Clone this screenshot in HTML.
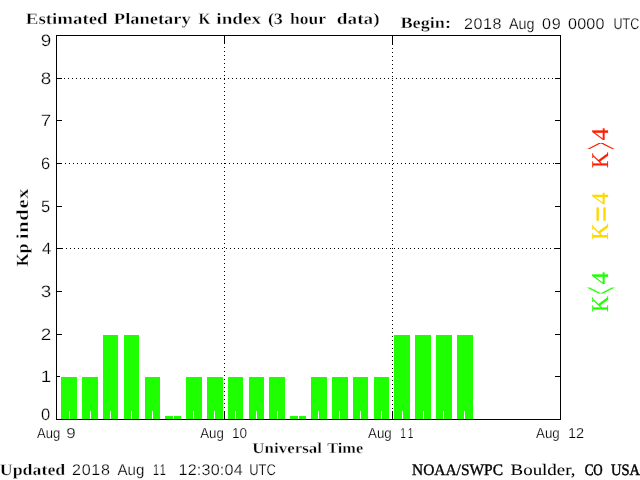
<!DOCTYPE html>
<html lang="en"><head><meta charset="utf-8"><title>Estimated Planetary K index</title>
<style>html,body{margin:0;padding:0;background:#fff;overflow:hidden}svg{display:block}text{white-space:pre;text-rendering:geometricPrecision;stroke:#fff;stroke-width:.22px;stroke-linejoin:round}text.b{stroke-width:.3px}text.m{stroke:#000;stroke-width:.25px}text.s{stroke-width:.4px;vector-effect:non-scaling-stroke}</style></head>
<body>
<svg width="640" height="480" viewBox="0 0 640 480">
<rect width="640" height="480" fill="#fff"/>
<g shape-rendering="crispEdges">
<rect x="61" y="377" width="16" height="42" fill="#1eff00"/>
<rect x="82" y="377" width="16" height="42" fill="#1eff00"/>
<rect x="103" y="335" width="15" height="84" fill="#1eff00"/>
<rect x="124" y="335" width="15" height="84" fill="#1eff00"/>
<rect x="145" y="377" width="15" height="42" fill="#1eff00"/>
<rect x="165" y="416" width="16" height="3" fill="#1eff00"/>
<rect x="186" y="377" width="16" height="42" fill="#1eff00"/>
<rect x="207" y="377" width="16" height="42" fill="#1eff00"/>
<rect x="228" y="377" width="15" height="42" fill="#1eff00"/>
<rect x="249" y="377" width="15" height="42" fill="#1eff00"/>
<rect x="269" y="377" width="16" height="42" fill="#1eff00"/>
<rect x="290" y="416" width="16" height="3" fill="#1eff00"/>
<rect x="311" y="377" width="16" height="42" fill="#1eff00"/>
<rect x="332" y="377" width="16" height="42" fill="#1eff00"/>
<rect x="353" y="377" width="15" height="42" fill="#1eff00"/>
<rect x="374" y="377" width="15" height="42" fill="#1eff00"/>
<rect x="394" y="335" width="16" height="84" fill="#1eff00"/>
<rect x="415" y="335" width="16" height="84" fill="#1eff00"/>
<rect x="436" y="335" width="16" height="84" fill="#1eff00"/>
<rect x="457" y="335" width="16" height="84" fill="#1eff00"/>
<rect x="69" y="411" width="1" height="8" fill="#fff"/>
<rect x="90" y="411" width="1" height="8" fill="#fff"/>
<rect x="110" y="411" width="1" height="8" fill="#fff"/>
<rect x="131" y="411" width="1" height="8" fill="#fff"/>
<rect x="152" y="411" width="1" height="8" fill="#fff"/>
<rect x="173" y="416" width="1" height="3" fill="#fff"/>
<rect x="193" y="411" width="1" height="8" fill="#fff"/>
<rect x="214" y="411" width="1" height="8" fill="#fff"/>
<rect x="235" y="411" width="1" height="8" fill="#fff"/>
<rect x="256" y="411" width="1" height="8" fill="#fff"/>
<rect x="277" y="411" width="1" height="8" fill="#fff"/>
<rect x="298" y="416" width="1" height="3" fill="#fff"/>
<rect x="318" y="411" width="1" height="8" fill="#fff"/>
<rect x="339" y="411" width="1" height="8" fill="#fff"/>
<rect x="360" y="411" width="1" height="8" fill="#fff"/>
<rect x="381" y="411" width="1" height="8" fill="#fff"/>
<rect x="402" y="411" width="1" height="8" fill="#fff"/>
<rect x="423" y="411" width="1" height="8" fill="#fff"/>
<rect x="443" y="411" width="1" height="8" fill="#fff"/>
<rect x="464" y="411" width="1" height="8" fill="#fff"/>
<rect x="56" y="35" width="505" height="1" fill="#000"/>
<rect x="56" y="419" width="505" height="1" fill="#000"/>
<rect x="56" y="35" width="1" height="385" fill="#000"/>
<rect x="560" y="35" width="1" height="385" fill="#000"/>
<rect x="56" y="376" width="4" height="1" fill="#000"/>
<rect x="555" y="376" width="6" height="1" fill="#000"/>
<rect x="56" y="334" width="6" height="1" fill="#000"/>
<rect x="555" y="334" width="6" height="1" fill="#000"/>
<rect x="56" y="291" width="6" height="1" fill="#000"/>
<rect x="555" y="291" width="6" height="1" fill="#000"/>
<rect x="56" y="248" width="7" height="1" fill="#000"/>
<rect x="554" y="248" width="7" height="1" fill="#000"/>
<rect x="56" y="206" width="6" height="1" fill="#000"/>
<rect x="555" y="206" width="6" height="1" fill="#000"/>
<rect x="56" y="163" width="6" height="1" fill="#000"/>
<rect x="555" y="163" width="6" height="1" fill="#000"/>
<rect x="56" y="120" width="6" height="1" fill="#000"/>
<rect x="555" y="120" width="6" height="1" fill="#000"/>
<rect x="56" y="78" width="6" height="1" fill="#000"/>
<rect x="555" y="78" width="6" height="1" fill="#000"/>
<path d="M64 78h1v1h-1zM68 78h1v1h-1zM72 78h1v1h-1zM76 78h1v1h-1zM80 78h1v1h-1zM84 78h1v1h-1zM88 78h1v1h-1zM92 78h1v1h-1zM96 78h1v1h-1zM100 78h1v1h-1zM104 78h1v1h-1zM108 78h1v1h-1zM112 78h1v1h-1zM116 78h1v1h-1zM120 78h1v1h-1zM124 78h1v1h-1zM128 78h1v1h-1zM132 78h1v1h-1zM136 78h1v1h-1zM140 78h1v1h-1zM144 78h1v1h-1zM148 78h1v1h-1zM152 78h1v1h-1zM156 78h1v1h-1zM160 78h1v1h-1zM164 78h1v1h-1zM168 78h1v1h-1zM172 78h1v1h-1zM176 78h1v1h-1zM180 78h1v1h-1zM184 78h1v1h-1zM188 78h1v1h-1zM192 78h1v1h-1zM196 78h1v1h-1zM200 78h1v1h-1zM204 78h1v1h-1zM208 78h1v1h-1zM212 78h1v1h-1zM216 78h1v1h-1zM220 78h1v1h-1zM224 78h1v1h-1zM228 78h1v1h-1zM232 78h1v1h-1zM236 78h1v1h-1zM240 78h1v1h-1zM244 78h1v1h-1zM248 78h1v1h-1zM252 78h1v1h-1zM256 78h1v1h-1zM260 78h1v1h-1zM264 78h1v1h-1zM268 78h1v1h-1zM272 78h1v1h-1zM276 78h1v1h-1zM280 78h1v1h-1zM284 78h1v1h-1zM288 78h1v1h-1zM292 78h1v1h-1zM296 78h1v1h-1zM300 78h1v1h-1zM304 78h1v1h-1zM308 78h1v1h-1zM312 78h1v1h-1zM316 78h1v1h-1zM320 78h1v1h-1zM324 78h1v1h-1zM328 78h1v1h-1zM332 78h1v1h-1zM336 78h1v1h-1zM340 78h1v1h-1zM344 78h1v1h-1zM348 78h1v1h-1zM352 78h1v1h-1zM356 78h1v1h-1zM360 78h1v1h-1zM364 78h1v1h-1zM368 78h1v1h-1zM372 78h1v1h-1zM376 78h1v1h-1zM380 78h1v1h-1zM384 78h1v1h-1zM388 78h1v1h-1zM392 78h1v1h-1zM396 78h1v1h-1zM400 78h1v1h-1zM404 78h1v1h-1zM408 78h1v1h-1zM412 78h1v1h-1zM416 78h1v1h-1zM420 78h1v1h-1zM424 78h1v1h-1zM428 78h1v1h-1zM432 78h1v1h-1zM436 78h1v1h-1zM440 78h1v1h-1zM444 78h1v1h-1zM448 78h1v1h-1zM452 78h1v1h-1zM456 78h1v1h-1zM460 78h1v1h-1zM464 78h1v1h-1zM468 78h1v1h-1zM472 78h1v1h-1zM476 78h1v1h-1zM480 78h1v1h-1zM484 78h1v1h-1zM488 78h1v1h-1zM492 78h1v1h-1zM496 78h1v1h-1zM500 78h1v1h-1zM504 78h1v1h-1zM508 78h1v1h-1zM512 78h1v1h-1zM516 78h1v1h-1zM520 78h1v1h-1zM524 78h1v1h-1zM528 78h1v1h-1zM532 78h1v1h-1zM536 78h1v1h-1zM540 78h1v1h-1zM544 78h1v1h-1zM548 78h1v1h-1zM552 78h1v1h-1z" fill="#000"/>
<path d="M65 163h1v1h-1zM69 163h1v1h-1zM73 163h1v1h-1zM77 163h1v1h-1zM81 163h1v1h-1zM85 163h1v1h-1zM89 163h1v1h-1zM93 163h1v1h-1zM97 163h1v1h-1zM101 163h1v1h-1zM105 163h1v1h-1zM109 163h1v1h-1zM113 163h1v1h-1zM117 163h1v1h-1zM121 163h1v1h-1zM125 163h1v1h-1zM129 163h1v1h-1zM133 163h1v1h-1zM137 163h1v1h-1zM141 163h1v1h-1zM145 163h1v1h-1zM149 163h1v1h-1zM153 163h1v1h-1zM157 163h1v1h-1zM161 163h1v1h-1zM165 163h1v1h-1zM169 163h1v1h-1zM173 163h1v1h-1zM177 163h1v1h-1zM181 163h1v1h-1zM185 163h1v1h-1zM189 163h1v1h-1zM193 163h1v1h-1zM197 163h1v1h-1zM201 163h1v1h-1zM205 163h1v1h-1zM209 163h1v1h-1zM213 163h1v1h-1zM217 163h1v1h-1zM221 163h1v1h-1zM225 163h1v1h-1zM229 163h1v1h-1zM233 163h1v1h-1zM237 163h1v1h-1zM241 163h1v1h-1zM245 163h1v1h-1zM249 163h1v1h-1zM253 163h1v1h-1zM257 163h1v1h-1zM261 163h1v1h-1zM265 163h1v1h-1zM269 163h1v1h-1zM273 163h1v1h-1zM277 163h1v1h-1zM281 163h1v1h-1zM285 163h1v1h-1zM289 163h1v1h-1zM293 163h1v1h-1zM297 163h1v1h-1zM301 163h1v1h-1zM305 163h1v1h-1zM309 163h1v1h-1zM313 163h1v1h-1zM317 163h1v1h-1zM321 163h1v1h-1zM325 163h1v1h-1zM329 163h1v1h-1zM333 163h1v1h-1zM337 163h1v1h-1zM341 163h1v1h-1zM345 163h1v1h-1zM349 163h1v1h-1zM353 163h1v1h-1zM357 163h1v1h-1zM361 163h1v1h-1zM365 163h1v1h-1zM369 163h1v1h-1zM373 163h1v1h-1zM377 163h1v1h-1zM381 163h1v1h-1zM385 163h1v1h-1zM389 163h1v1h-1zM393 163h1v1h-1zM397 163h1v1h-1zM401 163h1v1h-1zM405 163h1v1h-1zM409 163h1v1h-1zM413 163h1v1h-1zM417 163h1v1h-1zM421 163h1v1h-1zM425 163h1v1h-1zM429 163h1v1h-1zM433 163h1v1h-1zM437 163h1v1h-1zM441 163h1v1h-1zM445 163h1v1h-1zM449 163h1v1h-1zM453 163h1v1h-1zM457 163h1v1h-1zM461 163h1v1h-1zM465 163h1v1h-1zM469 163h1v1h-1zM473 163h1v1h-1zM477 163h1v1h-1zM481 163h1v1h-1zM485 163h1v1h-1zM489 163h1v1h-1zM493 163h1v1h-1zM497 163h1v1h-1zM501 163h1v1h-1zM505 163h1v1h-1zM509 163h1v1h-1zM513 163h1v1h-1zM517 163h1v1h-1zM521 163h1v1h-1zM525 163h1v1h-1zM529 163h1v1h-1zM533 163h1v1h-1zM537 163h1v1h-1zM541 163h1v1h-1zM545 163h1v1h-1zM549 163h1v1h-1zM553 163h1v1h-1z" fill="#000"/>
<path d="M66 248h1v1h-1zM70 248h1v1h-1zM74 248h1v1h-1zM78 248h1v1h-1zM82 248h1v1h-1zM86 248h1v1h-1zM90 248h1v1h-1zM94 248h1v1h-1zM98 248h1v1h-1zM102 248h1v1h-1zM106 248h1v1h-1zM110 248h1v1h-1zM114 248h1v1h-1zM118 248h1v1h-1zM122 248h1v1h-1zM126 248h1v1h-1zM130 248h1v1h-1zM134 248h1v1h-1zM138 248h1v1h-1zM142 248h1v1h-1zM146 248h1v1h-1zM150 248h1v1h-1zM154 248h1v1h-1zM158 248h1v1h-1zM162 248h1v1h-1zM166 248h1v1h-1zM170 248h1v1h-1zM174 248h1v1h-1zM178 248h1v1h-1zM182 248h1v1h-1zM186 248h1v1h-1zM190 248h1v1h-1zM194 248h1v1h-1zM198 248h1v1h-1zM202 248h1v1h-1zM206 248h1v1h-1zM210 248h1v1h-1zM214 248h1v1h-1zM218 248h1v1h-1zM222 248h1v1h-1zM226 248h1v1h-1zM230 248h1v1h-1zM234 248h1v1h-1zM238 248h1v1h-1zM242 248h1v1h-1zM246 248h1v1h-1zM250 248h1v1h-1zM254 248h1v1h-1zM258 248h1v1h-1zM262 248h1v1h-1zM266 248h1v1h-1zM270 248h1v1h-1zM274 248h1v1h-1zM278 248h1v1h-1zM282 248h1v1h-1zM286 248h1v1h-1zM290 248h1v1h-1zM294 248h1v1h-1zM298 248h1v1h-1zM302 248h1v1h-1zM306 248h1v1h-1zM310 248h1v1h-1zM314 248h1v1h-1zM318 248h1v1h-1zM322 248h1v1h-1zM326 248h1v1h-1zM330 248h1v1h-1zM334 248h1v1h-1zM338 248h1v1h-1zM342 248h1v1h-1zM346 248h1v1h-1zM350 248h1v1h-1zM354 248h1v1h-1zM358 248h1v1h-1zM362 248h1v1h-1zM366 248h1v1h-1zM370 248h1v1h-1zM374 248h1v1h-1zM378 248h1v1h-1zM382 248h1v1h-1zM386 248h1v1h-1zM390 248h1v1h-1zM394 248h1v1h-1zM398 248h1v1h-1zM402 248h1v1h-1zM406 248h1v1h-1zM410 248h1v1h-1zM414 248h1v1h-1zM418 248h1v1h-1zM422 248h1v1h-1zM426 248h1v1h-1zM430 248h1v1h-1zM434 248h1v1h-1zM438 248h1v1h-1zM442 248h1v1h-1zM446 248h1v1h-1zM450 248h1v1h-1zM454 248h1v1h-1zM458 248h1v1h-1zM462 248h1v1h-1zM466 248h1v1h-1zM470 248h1v1h-1zM474 248h1v1h-1zM478 248h1v1h-1zM482 248h1v1h-1zM486 248h1v1h-1zM490 248h1v1h-1zM494 248h1v1h-1zM498 248h1v1h-1zM502 248h1v1h-1zM506 248h1v1h-1zM510 248h1v1h-1zM514 248h1v1h-1zM518 248h1v1h-1zM522 248h1v1h-1zM526 248h1v1h-1zM530 248h1v1h-1zM534 248h1v1h-1zM538 248h1v1h-1zM542 248h1v1h-1zM546 248h1v1h-1zM550 248h1v1h-1z" fill="#000"/>
<rect x="224" y="35" width="1" height="9" fill="#000"/>
<rect x="224" y="411" width="1" height="9" fill="#000"/>
<path d="M224 47h1v1h-1zM224 51h1v1h-1zM224 55h1v1h-1zM224 59h1v1h-1zM224 63h1v1h-1zM224 67h1v1h-1zM224 71h1v1h-1zM224 75h1v1h-1zM224 79h1v1h-1zM224 83h1v1h-1zM224 87h1v1h-1zM224 91h1v1h-1zM224 95h1v1h-1zM224 99h1v1h-1zM224 103h1v1h-1zM224 107h1v1h-1zM224 111h1v1h-1zM224 115h1v1h-1zM224 119h1v1h-1zM224 123h1v1h-1zM224 127h1v1h-1zM224 131h1v1h-1zM224 135h1v1h-1zM224 139h1v1h-1zM224 143h1v1h-1zM224 147h1v1h-1zM224 151h1v1h-1zM224 155h1v1h-1zM224 159h1v1h-1zM224 163h1v1h-1zM224 167h1v1h-1zM224 171h1v1h-1zM224 175h1v1h-1zM224 179h1v1h-1zM224 183h1v1h-1zM224 187h1v1h-1zM224 191h1v1h-1zM224 195h1v1h-1zM224 199h1v1h-1zM224 203h1v1h-1zM224 207h1v1h-1zM224 211h1v1h-1zM224 215h1v1h-1zM224 219h1v1h-1zM224 223h1v1h-1zM224 227h1v1h-1zM224 231h1v1h-1zM224 235h1v1h-1zM224 239h1v1h-1zM224 243h1v1h-1zM224 247h1v1h-1zM224 251h1v1h-1zM224 255h1v1h-1zM224 259h1v1h-1zM224 263h1v1h-1zM224 267h1v1h-1zM224 271h1v1h-1zM224 275h1v1h-1zM224 279h1v1h-1zM224 283h1v1h-1zM224 287h1v1h-1zM224 291h1v1h-1zM224 295h1v1h-1zM224 299h1v1h-1zM224 303h1v1h-1zM224 307h1v1h-1zM224 311h1v1h-1zM224 315h1v1h-1zM224 319h1v1h-1zM224 323h1v1h-1zM224 327h1v1h-1zM224 331h1v1h-1zM224 335h1v1h-1zM224 339h1v1h-1zM224 343h1v1h-1zM224 347h1v1h-1zM224 351h1v1h-1zM224 355h1v1h-1zM224 359h1v1h-1zM224 363h1v1h-1zM224 367h1v1h-1zM224 371h1v1h-1zM224 375h1v1h-1zM224 379h1v1h-1zM224 383h1v1h-1zM224 387h1v1h-1zM224 391h1v1h-1zM224 395h1v1h-1zM224 399h1v1h-1zM224 403h1v1h-1zM224 407h1v1h-1z" fill="#000"/>
<rect x="392" y="35" width="1" height="10" fill="#000"/>
<rect x="392" y="411" width="1" height="9" fill="#000"/>
<path d="M392 48h1v1h-1zM392 52h1v1h-1zM392 56h1v1h-1zM392 60h1v1h-1zM392 64h1v1h-1zM392 68h1v1h-1zM392 72h1v1h-1zM392 76h1v1h-1zM392 80h1v1h-1zM392 84h1v1h-1zM392 88h1v1h-1zM392 92h1v1h-1zM392 96h1v1h-1zM392 100h1v1h-1zM392 104h1v1h-1zM392 108h1v1h-1zM392 112h1v1h-1zM392 116h1v1h-1zM392 120h1v1h-1zM392 124h1v1h-1zM392 128h1v1h-1zM392 132h1v1h-1zM392 136h1v1h-1zM392 140h1v1h-1zM392 144h1v1h-1zM392 148h1v1h-1zM392 152h1v1h-1zM392 156h1v1h-1zM392 160h1v1h-1zM392 164h1v1h-1zM392 168h1v1h-1zM392 172h1v1h-1zM392 176h1v1h-1zM392 180h1v1h-1zM392 184h1v1h-1zM392 188h1v1h-1zM392 192h1v1h-1zM392 196h1v1h-1zM392 200h1v1h-1zM392 204h1v1h-1zM392 208h1v1h-1zM392 212h1v1h-1zM392 216h1v1h-1zM392 220h1v1h-1zM392 224h1v1h-1zM392 228h1v1h-1zM392 232h1v1h-1zM392 236h1v1h-1zM392 240h1v1h-1zM392 244h1v1h-1zM392 248h1v1h-1zM392 252h1v1h-1zM392 256h1v1h-1zM392 260h1v1h-1zM392 264h1v1h-1zM392 268h1v1h-1zM392 272h1v1h-1zM392 276h1v1h-1zM392 280h1v1h-1zM392 284h1v1h-1zM392 288h1v1h-1zM392 292h1v1h-1zM392 296h1v1h-1zM392 300h1v1h-1zM392 304h1v1h-1zM392 308h1v1h-1zM392 312h1v1h-1zM392 316h1v1h-1zM392 320h1v1h-1zM392 324h1v1h-1zM392 328h1v1h-1zM392 332h1v1h-1zM392 336h1v1h-1zM392 340h1v1h-1zM392 344h1v1h-1zM392 348h1v1h-1zM392 352h1v1h-1zM392 356h1v1h-1zM392 360h1v1h-1zM392 364h1v1h-1zM392 368h1v1h-1zM392 372h1v1h-1zM392 376h1v1h-1zM392 380h1v1h-1zM392 384h1v1h-1zM392 388h1v1h-1zM392 392h1v1h-1zM392 396h1v1h-1zM392 400h1v1h-1zM392 404h1v1h-1zM392 408h1v1h-1z" fill="#000"/>
</g>
<g style="filter:opacity(.999)">
<text class="b" transform="translate(25.82,24.00) scale(1.1791,1)" fill="#000" style='font-family:"Liberation Serif", serif;font-size:16px;font-weight:bold;letter-spacing:0.000px'>Estimated</text>
<text class="b" transform="translate(113.85,24.00) scale(1.1538,1)" fill="#000" style='font-family:"Liberation Serif", serif;font-size:16px;font-weight:bold;letter-spacing:0.000px'>Planetary</text>
<text class="b" transform="translate(198.55,24.00) scale(0.9545,1)" fill="#000" style='font-family:"Liberation Serif", serif;font-size:16px;font-weight:bold;letter-spacing:0.000px'>K</text>
<text class="b" transform="translate(216.30,24.00) scale(1.2000,1)" fill="#000" style='font-family:"Liberation Serif", serif;font-size:16px;font-weight:bold;letter-spacing:0.000px'>index</text>
<text class="b" transform="translate(267.88,24.00) scale(1.1250,1)" fill="#000" style='font-family:"Liberation Serif", serif;font-size:16px;font-weight:bold;letter-spacing:0.000px'>(3</text>
<text class="b" transform="translate(289.91,24.00) scale(1.0938,1)" fill="#000" style='font-family:"Liberation Serif", serif;font-size:16px;font-weight:bold;letter-spacing:0.000px'>hour</text>
<text class="b" transform="translate(336.80,24.00) scale(1.2000,1)" fill="#000" style='font-family:"Liberation Serif", serif;font-size:16px;font-weight:bold;letter-spacing:0.042px'>data)</text>
<text class="b" transform="translate(400.46,28.00) scale(1.1381,1)" fill="#000" style='font-family:"Liberation Serif", serif;font-size:16px;font-weight:bold;letter-spacing:0.000px'>Begin:</text>
<text transform="translate(463.96,29.00) scale(1.0400,1)" fill="#000" style='font-family:"Liberation Sans", sans-serif;font-size:15.5px;font-weight:normal;letter-spacing:0.538px'>2018</text>
<text transform="translate(509.00,29.00) scale(0.9259,1)" fill="#000" style='font-family:"Liberation Sans", sans-serif;font-size:15.5px;font-weight:normal;letter-spacing:0.000px'>Aug</text>
<text transform="translate(541.96,29.00) scale(1.0400,1)" fill="#000" style='font-family:"Liberation Sans", sans-serif;font-size:15.5px;font-weight:normal;letter-spacing:0.865px'>09</text>
<text transform="translate(567.96,29.00) scale(1.0400,1)" fill="#000" style='font-family:"Liberation Sans", sans-serif;font-size:15.5px;font-weight:normal;letter-spacing:0.218px'>0000</text>
<text transform="translate(613.49,29.00) scale(0.8067,1)" fill="#000" style='font-family:"Liberation Sans", sans-serif;font-size:15.5px;font-weight:normal;letter-spacing:0.000px'>UTC</text>
<text transform="translate(37.00,438.00) scale(0.9000,1)" fill="#000" style='font-family:"Liberation Sans", sans-serif;font-size:14.5px;font-weight:normal;letter-spacing:0.000px'>Aug</text>
<text transform="translate(66.33,438.00) scale(1.1667,1)" fill="#000" style='font-family:"Liberation Sans", sans-serif;font-size:14.5px;font-weight:normal;letter-spacing:0.000px'>9</text>
<text transform="translate(200.20,438.00) scale(0.9160,1)" fill="#000" style='font-family:"Liberation Sans", sans-serif;font-size:14.5px;font-weight:normal;letter-spacing:0.000px'>Aug</text>
<text transform="translate(232.07,438.00) scale(0.9333,1)" fill="#000" style='font-family:"Liberation Sans", sans-serif;font-size:14.5px;font-weight:normal;letter-spacing:0.000px'>10</text>
<text transform="translate(368.10,438.00) scale(0.9160,1)" fill="#000" style='font-family:"Liberation Sans", sans-serif;font-size:14.5px;font-weight:normal;letter-spacing:0.000px'>Aug</text>
<text transform="translate(400.30,438.00) scale(0.7000,1)" fill="#000" style='font-family:"Liberation Sans", sans-serif;font-size:14.5px;font-weight:normal;letter-spacing:3.571px'>11</text>
<text transform="translate(536.10,438.00) scale(0.9160,1)" fill="#000" style='font-family:"Liberation Sans", sans-serif;font-size:14.5px;font-weight:normal;letter-spacing:0.000px'>Aug</text>
<text transform="translate(568.00,438.00) scale(1.0000,1)" fill="#000" style='font-family:"Liberation Sans", sans-serif;font-size:14.5px;font-weight:normal;letter-spacing:0.000px'>12</text>
<text transform="translate(41.00,420.00) scale(1.0000,1)" fill="#000" style='font-family:"Liberation Sans", sans-serif;font-size:16.5px;font-weight:normal;letter-spacing:0.000px'>0</text>
<text transform="translate(40.86,382.00) scale(1.1429,1)" fill="#000" style='font-family:"Liberation Sans", sans-serif;font-size:16.5px;font-weight:normal;letter-spacing:0.000px'>1</text>
<text transform="translate(40.86,340.00) scale(1.1429,1)" fill="#000" style='font-family:"Liberation Sans", sans-serif;font-size:16.5px;font-weight:normal;letter-spacing:0.000px'>2</text>
<text transform="translate(40.86,297.00) scale(1.1429,1)" fill="#000" style='font-family:"Liberation Sans", sans-serif;font-size:16.5px;font-weight:normal;letter-spacing:0.000px'>3</text>
<text transform="translate(42.00,254.00) scale(1.0000,1)" fill="#000" style='font-family:"Liberation Sans", sans-serif;font-size:16.5px;font-weight:normal;letter-spacing:0.000px'>4</text>
<text transform="translate(41.00,212.00) scale(1.0000,1)" fill="#000" style='font-family:"Liberation Sans", sans-serif;font-size:16.5px;font-weight:normal;letter-spacing:0.000px'>5</text>
<text transform="translate(41.00,169.00) scale(1.0000,1)" fill="#000" style='font-family:"Liberation Sans", sans-serif;font-size:16.5px;font-weight:normal;letter-spacing:0.000px'>6</text>
<text transform="translate(40.86,126.00) scale(1.1429,1)" fill="#000" style='font-family:"Liberation Sans", sans-serif;font-size:16.5px;font-weight:normal;letter-spacing:0.000px'>7</text>
<text transform="translate(40.86,84.00) scale(1.1429,1)" fill="#000" style='font-family:"Liberation Sans", sans-serif;font-size:16.5px;font-weight:normal;letter-spacing:0.000px'>8</text>
<text transform="translate(40.86,46.00) scale(1.1429,1)" fill="#000" style='font-family:"Liberation Sans", sans-serif;font-size:16.5px;font-weight:normal;letter-spacing:0.000px'>9</text>
<text class="b" transform="translate(252.37,453.00) scale(1.1283,1)" fill="#000" style='font-family:"Liberation Serif", serif;font-size:15px;font-weight:bold;letter-spacing:0.000px'>Universal</text>
<text class="b" transform="translate(327.21,453.00) scale(1.0906,1)" fill="#000" style='font-family:"Liberation Serif", serif;font-size:15px;font-weight:bold;letter-spacing:0.000px'>Time</text>
<text class="b" transform="translate(-0.23,475.00) scale(1.1161,1)" fill="#000" style='font-family:"Liberation Serif", serif;font-size:16px;font-weight:bold;letter-spacing:0.000px'>Updated</text>
<text transform="translate(71.96,475.00) scale(1.0400,1)" fill="#000" style='font-family:"Liberation Sans", sans-serif;font-size:15.5px;font-weight:normal;letter-spacing:0.699px'>2018</text>
<text transform="translate(117.50,475.00) scale(0.9722,1)" fill="#000" style='font-family:"Liberation Sans", sans-serif;font-size:15.5px;font-weight:normal;letter-spacing:0.000px'>Aug</text>
<text transform="translate(153.05,475.00) scale(0.7000,1)" fill="#000" style='font-family:"Liberation Sans", sans-serif;font-size:15.5px;font-weight:normal;letter-spacing:2.071px'>11</text>
<text transform="translate(178.46,475.00) scale(1.0400,1)" fill="#000" style='font-family:"Liberation Sans", sans-serif;font-size:15.5px;font-weight:normal;letter-spacing:0.196px'>12:30:04</text>
<text transform="translate(249.17,475.00) scale(0.8333,1)" fill="#000" style='font-family:"Liberation Sans", sans-serif;font-size:15.5px;font-weight:normal;letter-spacing:0.000px'>UTC</text>
<text class="m" transform="translate(412.00,475.00) scale(0.9654,1)" fill="#000" style='font-family:"Liberation Serif", serif;font-size:16px;font-weight:normal;letter-spacing:0.000px;stroke-width:0.36px'>NOAA/SWPC</text>
<text class="m" transform="translate(510.60,475.00) scale(1.1815,1)" fill="#000" style='font-family:"Liberation Serif", serif;font-size:16px;font-weight:normal;letter-spacing:0.000px;stroke-width:0.05px'>Boulder,</text>
<text class="m" transform="translate(584.70,475.00) scale(0.8091,1)" fill="#000" style='font-family:"Liberation Serif", serif;font-size:16px;font-weight:normal;letter-spacing:0.000px;stroke-width:0.55px'>CO</text>
<text class="m" transform="translate(611.00,475.00) scale(0.9062,1)" fill="#000" style='font-family:"Liberation Serif", serif;font-size:16px;font-weight:normal;letter-spacing:0.000px;stroke-width:0.47px'>USA</text>
<text class="b" transform="translate(27.50,266.61) rotate(-90) scale(1.0143,1)" fill="#000" style='font-family:"Liberation Serif", serif;font-size:17px;font-weight:bold;letter-spacing:0.000px'>Kp</text>
<text class="b" transform="translate(27.50,239.30) rotate(-90) scale(1.2000,1)" fill="#000" style='font-family:"Liberation Serif", serif;font-size:17px;font-weight:bold;letter-spacing:0.646px'>index</text>
</g>
<g style="filter:opacity(.999)">
<text class="b" transform="translate(608.00,167.92) rotate(-90) scale(0.9219,1.0000)" fill="#ff1e00" style='font-family:"Liberation Serif", serif;font-size:24px;font-weight:normal;stroke:#ff1e00;stroke-width:.2px'>K</text><text class="s" transform="translate(620.27,149.81) rotate(-90) scale(0.5318,2.4250)" fill="#ff1e00" style='font-family:"Liberation Sans", sans-serif;font-size:24px;font-weight:normal;stroke:#fff;stroke-width:.55px'>&gt;</text><text class="b" transform="translate(608.00,140.60) rotate(-90) scale(1.0417,1.0000)" fill="#ff1e00" style='font-family:"Liberation Serif", serif;font-size:24px;font-weight:normal;stroke:#ff1e00;stroke-width:.2px'>4</text>
<text class="b" transform="translate(608.00,239.69) rotate(-90) scale(0.9375,1.0000)" fill="#ffd800" style='font-family:"Liberation Serif", serif;font-size:24px;font-weight:normal;stroke:#ffd800;stroke-width:.2px'>K</text><text class="s" transform="translate(609.50,221.69) rotate(-90) scale(1.0917,1.1250)" fill="#ffd800" style='font-family:"Liberation Sans", sans-serif;font-size:24px;font-weight:normal;stroke:#ffd800;stroke-width:.3px'>=</text><text class="b" transform="translate(608.00,204.40) rotate(-90) scale(1.0125,1.0000)" fill="#ffd800" style='font-family:"Liberation Serif", serif;font-size:24px;font-weight:normal;stroke:#ffd800;stroke-width:.2px'>4</text>
<text class="b" transform="translate(608.00,311.92) rotate(-90) scale(0.9219,1.0000)" fill="#1eff00" style='font-family:"Liberation Serif", serif;font-size:24px;font-weight:normal;stroke:#1eff00;stroke-width:.2px'>K</text><text class="s" transform="translate(620.27,294.27) rotate(-90) scale(0.5208,2.4250)" fill="#1eff00" style='font-family:"Liberation Sans", sans-serif;font-size:24px;font-weight:normal;stroke:#fff;stroke-width:.55px'>&lt;</text><text class="b" transform="translate(608.00,284.40) rotate(-90) scale(1.0417,1.0000)" fill="#1eff00" style='font-family:"Liberation Serif", serif;font-size:24px;font-weight:normal;stroke:#1eff00;stroke-width:.2px'>4</text>
</g>
</svg>
</body></html>
